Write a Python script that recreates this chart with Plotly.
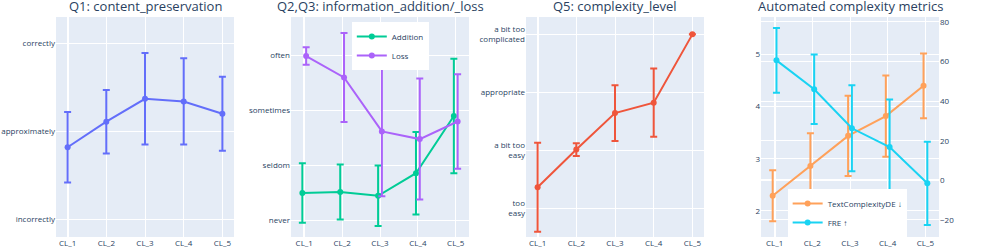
import plotly.graph_objects as go
from plotly.subplots import make_subplots

categories = ["CL_1", "CL_2", "CL_3", "CL_4", "CL_5"]

q1_labels = ["incorrectly", "approximately", "correctly"]
q1_mean = [1.82, 2.11, 2.37, 2.34, 2.20]
q1_err = [0.40, 0.36, 0.52, 0.49, 0.42]

q2_labels = ["never", "seldom", "sometimes", "often"]
addition_mean = [1.50, 1.52, 1.45, 1.86, 2.90]
addition_err = [0.54, 0.50, 0.55, 0.75, 1.04]
loss_mean = [3.99, 3.60, 2.62, 2.48, 2.80]
loss_err = [0.16, 0.81, 1.18, 1.10, 0.86]

q5_labels = ["too<br>easy", "a bit too<br>easy", "appropriate", "a bit too<br>complicated"]
q5_mean = [1.36, 2.01, 2.64, 2.82, 4.00]
q5_err = [0.77, 0.11, 0.48, 0.59, 0.0]

tcde_mean = [2.29, 2.86, 3.44, 3.82, 4.40]
tcde_err = [0.49, 0.63, 0.77, 0.78, 0.62]
fre_mean = [60.6, 46.0, 26.3, 16.8, -1.5]
fre_err = [16.3, 17.5, 21.7, 24.0, 21.0]

titles = ["Q1: content_preservation", "Q2,Q3: information_addition/_loss",
          "Q5: complexity_level", "Automated complexity metrics"]

pos = list(range(len(categories)))
left = [p - 0.05 for p in pos]
right = [p + 0.05 for p in pos]

fig = make_subplots(rows=1, cols=4, subplot_titles=titles,
                    specs=[[{}, {}, {}, {"secondary_y": True}]])


def tr(x, y, err, name, color, legend=None, show=False):
    return go.Scatter(x=x, y=y, name=name, mode="lines+markers",
                      line=dict(color=color, width=2),
                      marker=dict(color=color, size=6),
                      error_y=dict(type="data", array=err, visible=True,
                                   thickness=2, width=3.5, color=color),
                      showlegend=show, legend=legend)


fig.add_trace(tr(pos, q1_mean, q1_err, "Q1", "#636efa"), row=1, col=1)
fig.add_trace(tr(left, addition_mean, addition_err, "Addition", "#00cc96",
                 "legend", True), row=1, col=2)
fig.add_trace(tr(right, loss_mean, loss_err, "Loss", "#ab63fa",
                 "legend", True), row=1, col=2)
fig.add_trace(tr(pos, q5_mean, q5_err, "Q5", "#EF553B"), row=1, col=3)
fig.add_trace(tr(left, tcde_mean, tcde_err, "TextComplexityDE ↓", "#FFA15A",
                 "legend2", True), row=1, col=4, secondary_y=False)
fig.add_trace(tr(right, fre_mean, fre_err, "FRE ↑", "#19d3f3",
                 "legend2", True), row=1, col=4, secondary_y=True)

# panel layout: plot area 883 px wide, each panel 178 px, stride 235 px
plot_w = 883.0
domains = []
for i in range(4):
    d0 = i * 235 / plot_w
    d1 = min(1.0, d0 + 178 / plot_w)
    domains.append([d0, d1])

tickfont = dict(size=8)
xranges = [[-0.3, 4.3], [-0.35, 4.35], [-0.3, 4.3], [-0.36, 4.36]]
for i in range(4):
    fig.update_xaxes(tickmode="array", tickvals=pos, ticktext=categories,
                     range=xranges[i], tickfont=tickfont, automargin=False,
                     domain=domains[i], row=1, col=i + 1)

fig.update_yaxes(tickmode="array", tickvals=[1, 2, 3], ticktext=q1_labels,
                 range=[0.8, 3.3], row=1, col=1)
fig.update_yaxes(tickmode="array", tickvals=[1, 2, 3, 4], ticktext=q2_labels,
                 range=[0.7, 4.7], row=1, col=2)
fig.update_yaxes(tickmode="array", tickvals=[1, 2, 3, 4], ticktext=q5_labels,
                 range=[0.5, 4.3], row=1, col=3)
fig.update_yaxes(range=[1.5, 5.72], dtick=1, row=1, col=4, secondary_y=False)
fig.update_yaxes(range=[-28.6, 82.5], dtick=20, row=1, col=4, secondary_y=True)
fig.update_yaxes(tickfont=tickfont, automargin=False)

for i, ann in enumerate(fig.layout.annotations):
    ann.x = (domains[i][0] + domains[i][1]) / 2
    ann.font.size = 13

fig.update_layout(
    width=997, height=249,
    margin=dict(l=56, r=58, t=17, b=12),
    font=dict(size=8),
    legend=dict(x=0.335, y=0.977, xanchor="left", yanchor="top",
                bgcolor="white", font=dict(size=8)),
    legend2=dict(x=0.8286, y=0.0, xanchor="left", yanchor="bottom",
                 bgcolor="white", font=dict(size=8)),
)

# remove the browser's default 8px body margin so the figure fills the window
fig.write_html("out.html", config={"displayModeBar": False},
               post_script="document.body.style.margin='0px';")
